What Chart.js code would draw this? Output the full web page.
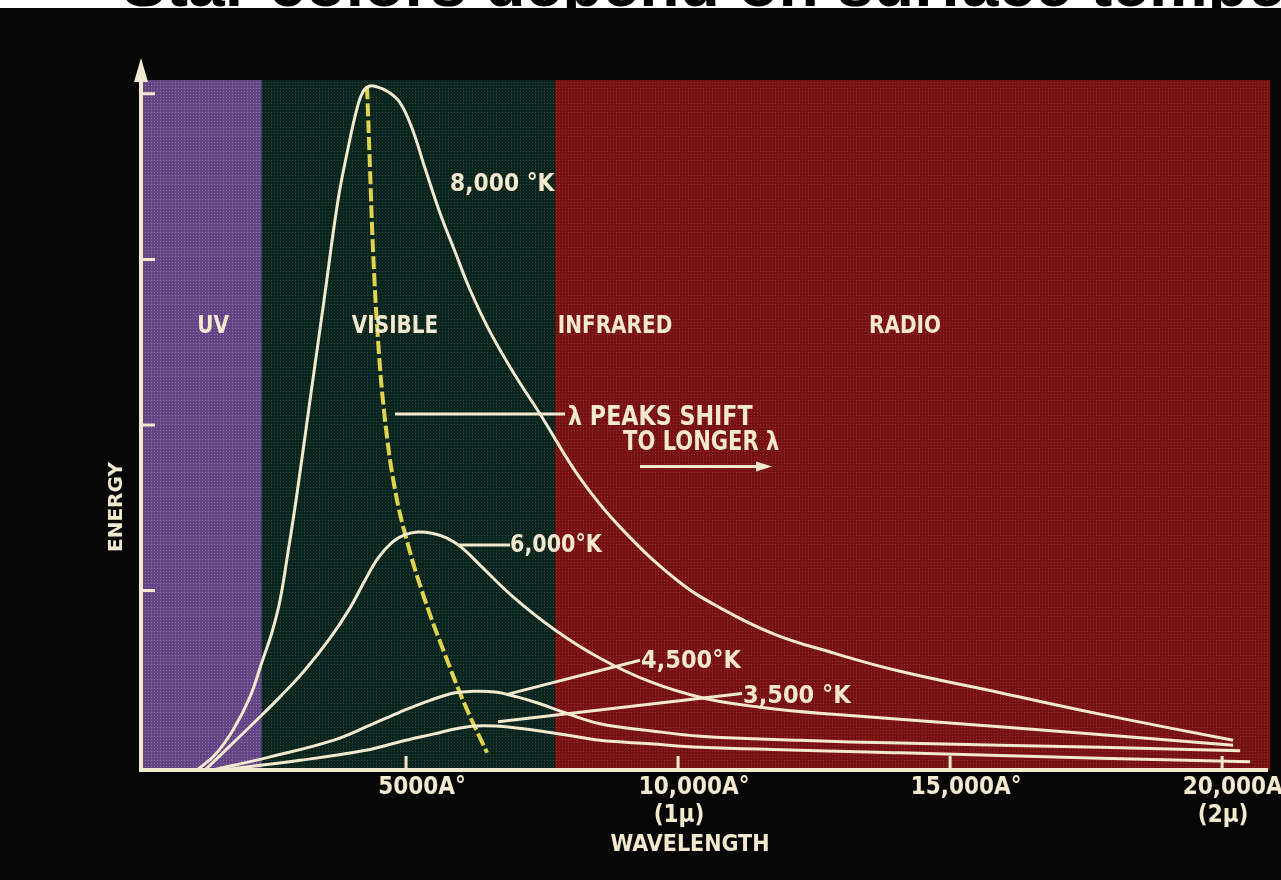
<!DOCTYPE html>
<html>
<head>
<meta charset="utf-8">
<script src="https://cdn.jsdelivr.net/npm/chart.js@4.4.1/dist/chart.umd.min.js"></script>
<style>
  html, body { margin: 0; padding: 0; background: #060606; }
  #wrap { position: relative; width: 1281px; height: 880px; }
</style>
</head>
<body>
<div id="wrap"><canvas id="c"></canvas></div>
<script>
// ── black-body curves: [wavelength Å, energy (arbitrary, 0-100)] ──
const titleText = 'Star colors depend on surface temperature';

const xTicks = [5000, 10000, 15000, 20000];
const xTickLabels = [['5000A°'], ['10,000A°', '(1μ)    '], ['15,000A°'], ['20,000A°', '(2μ)    ']];
const yTicks = [26, 50, 74, 98];

const bandEdges = [165, 2350, 7740, 20880];
const regionNames = ['UV', 'VISIBLE', 'INFRARED', 'RADIO'];
const regionCenters = [1452, 4798, 8842, 14172];

const curve8000 = [[1158,0],[1489,2.2],[1820,5.8],[2132,10.6],[2353,15.7],[2537,20.0],[2684,24.6],
  [2831,31.6],[2978,39.1],[3235,53.6],[3493,68.1],[3750,82.6],[3934,90.1],[4099,95.9],[4209,98.3],
  [4320,99.1],[4467,99.0],[4669,98.3],[4890,96.7],[5110,93.0],[5349,87.2],[5625,80.7],[5901,75.1],
  [6176,69.6],[6544,63.5],[7004,57.2],[7463,51.6],[8198,42.3],[8934,35.2],[9981,27.5],[10772,23.5],
  [11764,19.7],[12794,17.1],[14081,14.3],[15919,11.2],[17757,8.1],[20202,4.3]];
const curve6000 = [[1305,0],[1765,3.5],[2224,7.0],[2684,10.6],[3143,14.5],[3603,19.1],[3971,23.5],
  [4246,27.5],[4485,30.7],[4743,33.0],[4982,34.1],[5220,34.5],[5478,34.3],[5754,33.6],[6029,32.2],
  [6360,29.7],[6967,25.1],[7739,20.3],[8566,16.2],[9485,12.8],[10478,10.4],[11507,9.1],[12794,8.1],
  [16213,6.1],[20202,3.6]];
const curve4500 = [[1452,0],[2500,1.9],[3658,4.3],[4338,6.5],[4890,8.4],[5441,10.1],[5901,11.2],
  [6232,11.4],[6636,11.3],[7040,10.6],[7463,9.6],[7923,8.3],[8566,6.7],[9485,5.7],[10404,4.9],
  [12242,4.3],[14081,3.9],[17757,3.3],[20331,2.8]];
const curve3500 = [[1618,0],[3051,1.4],[4283,2.9],[4890,4.1],[5496,5.2],[5993,6.1],[6415,6.4],
  [6912,6.2],[7334,5.8],[7923,5.1],[8566,4.3],[9485,3.8],[10404,3.3],[14081,2.5],[17757,1.7],
  [20515,1.2]];
const peakLocus = [[4283,99.1],[4338,87.0],[4393,75.4],[4485,62.3],[4614,50.7],[4798,40.6],
  [5037,32.6],[5349,24.6],[5717,16.7],[6085,9.4],[6489,2.5]];

const CREAM = '#f3e9cf';
const FONT = '"Liberation Sans Narrow", "DejaVu Sans Condensed", "Liberation Sans", sans-serif';

function toXY(arr) { return arr.map(p => ({x: p[0], y: p[1]})); }

function curveSet(label, arr) {
    return {
        label, data: toXY(arr), showLine: true, borderColor: CREAM, borderWidth: 3,
        pointRadius: 0, tension: 0.4, fill: false
    };
}

// halftone look of the printed bands
function dotPattern(ctx, base, dot) {
    const c = document.createElement('canvas');
    c.width = 3; c.height = 3;
    const g = c.getContext('2d');
    g.fillStyle = base; g.fillRect(0, 0, 3, 3);
    g.fillStyle = dot; g.fillRect(1, 1, 1, 1);
    return ctx.createPattern(c, 'repeat');
}

function stretchText(ctx, s, x, y, sx, align) {
    ctx.save();
    ctx.translate(x, y);
    ctx.scale(sx, 1);
    ctx.textAlign = align;
    ctx.fillText(s, 0, 0);
    ctx.restore();
}

const slide = {
    id: 'slide',
    beforeDraw(chart) {
        const {ctx, width, height} = chart;
        ctx.save();
        ctx.fillStyle = '#060606';
        ctx.fillRect(0, 0, width, height);
        // title strip, mostly cut off by the slide frame
        ctx.fillStyle = '#ffffff';
        ctx.fillRect(0, 0, width, 8);
        ctx.beginPath(); ctx.rect(0, 0, width, 8); ctx.clip();
        ctx.fillStyle = '#000';
        ctx.font = 'bold 66px "Liberation Sans", sans-serif';
        ctx.textBaseline = 'alphabetic';
        ctx.fillText(titleText, 122, 6);
        ctx.restore();
    },
    beforeDatasetsDraw(chart) {
        const {ctx, chartArea: a, scales: {x}} = chart;
        const fills = [
            dotPattern(ctx, '#634484', '#8d6ea6'),
            dotPattern(ctx, '#0b251e', '#24443a'),
            dotPattern(ctx, '#761212', '#962c2c')
        ];
        ctx.save();
        for (let i = 0; i < fills.length; i++) {
            const x0 = x.getPixelForValue(bandEdges[i]);
            const x1 = x.getPixelForValue(bandEdges[i + 1]);
            ctx.fillStyle = fills[i];
            ctx.fillRect(x0, a.top, x1 - x0, a.bottom - a.top);
        }
        ctx.restore();
    },
    afterDatasetsDraw(chart) {
        const {ctx, chartArea: a, scales: {x, y}} = chart;
        const P = (wl, e) => [x.getPixelForValue(wl), y.getPixelForValue(e)];
        ctx.save();
        ctx.strokeStyle = CREAM;
        ctx.fillStyle = CREAM;

        // axes
        const ax = a.left - 2;
        ctx.lineWidth = 4;
        ctx.beginPath();
        ctx.moveTo(ax, a.bottom); ctx.lineTo(ax, a.top - 2);
        ctx.moveTo(ax - 2, a.bottom); ctx.lineTo(a.right - 2, a.bottom);
        ctx.stroke();
        ctx.beginPath();
        ctx.moveTo(ax, a.top - 22); ctx.lineTo(ax - 7, a.top + 2); ctx.lineTo(ax + 7, a.top + 2);
        ctx.closePath(); ctx.fill();

        // inside tick marks
        ctx.lineWidth = 3;
        ctx.beginPath();
        xTicks.forEach(v => {
            const px = x.getPixelForValue(v);
            ctx.moveTo(px, a.bottom); ctx.lineTo(px, a.bottom - 14);
        });
        yTicks.forEach(v => {
            const py = y.getPixelForValue(v);
            ctx.moveTo(ax, py); ctx.lineTo(ax + 14, py);
        });
        ctx.stroke();

        // leader lines
        const seg = (a1, b1, a2, b2) => {
            const p = P(a1, b1), q = P(a2, b2);
            ctx.beginPath(); ctx.moveTo(p[0], p[1]); ctx.lineTo(q[0], q[1]); ctx.stroke();
        };
        seg(4798, 51.6, 7923, 51.6);
        seg(5956, 32.6, 6912, 32.6);
        seg(6875, 11.0, 9301, 15.9);
        seg(6691, 7.0, 11176, 11.1);
        seg(9301, 44.0, 11500, 44.0);
        const ah = P(11728, 44.0);
        ctx.beginPath();
        ctx.moveTo(ah[0], ah[1]); ctx.lineTo(ah[0] - 16, ah[1] - 5); ctx.lineTo(ah[0] - 16, ah[1] + 5);
        ctx.closePath(); ctx.fill();

        // texts
        ctx.textBaseline = 'middle';
        ctx.font = 'bold 25px ' + FONT;
        regionNames.forEach((n, i) => {
            const p = P(regionCenters[i], 64.3);
            stretchText(ctx, n, p[0], p[1], 0.89, 'center');
        });
        const txt = (s, wl, e, sx) => { const p = P(wl, e); stretchText(ctx, s, p[0], p[1], sx, 'left'); };
        txt('8,000 °K', 5809, 84.8, 0.97);
        txt('6,000°K', 6912, 32.6, 0.92);
        txt('4,500°K', 9320, 15.7, 1.0);
        txt('3,500 °K', 11195, 10.6, 1.0);
        ctx.font = 'bold 26px ' + FONT;
        txt('λ PEAKS SHIFT', 7978, 51.0, 0.95);
        txt('TO LONGER λ', 8990, 47.4, 0.9);

        ctx.font = 'bold 23px ' + FONT;
        ctx.textAlign = 'center';
        ctx.fillText('WAVELENGTH', 690, a.bottom + 75);
        ctx.save();
        ctx.translate(117, 507);
        ctx.rotate(-Math.PI / 2);
        ctx.font = 'bold 20px "DejaVu Sans", sans-serif';
        ctx.fillText('ENERGY', 0, 0);
        ctx.restore();
        ctx.restore();
    }
};

new Chart(document.getElementById('c'), {
    type: 'scatter',
    data: {
        datasets: [
            curveSet('8,000 °K', curve8000),
            curveSet('6,000 °K', curve6000),
            curveSet('4,500 °K', curve4500),
            curveSet('3,500 °K', curve3500),
            {
                label: 'λ peak', data: toXY(peakLocus), showLine: true, borderColor: '#e2d34c',
                borderWidth: 4, borderDash: [13, 4], pointRadius: 0, tension: 0.4, fill: false
            }
        ]
    },
    options: {
        animation: false,
        responsive: true,
        maintainAspectRatio: false,
        layout: { padding: { top: 80, right: 11, left: 0, bottom: 0 } },
        plugins: { legend: { display: false }, tooltip: { enabled: false } },
        scales: {
            x: {
                type: 'linear', min: 165, max: 20880,
                grid: { display: false, drawTicks: false },
                border: { display: false },
                afterBuildTicks: s => { s.ticks = xTicks.map(v => ({value: v})); },
                afterFit: s => { s.height = 110; },
                ticks: {
                    color: CREAM, padding: 3, maxRotation: 0, autoSkip: false, labelOffset: 16,
                    font: { family: FONT, size: 24, weight: 'bold', lineHeight: 1.2 },
                    callback: v => xTickLabels[xTicks.indexOf(v)]
                }
            },
            y: {
                type: 'linear', min: 0, max: 100,
                grid: { display: false, drawTicks: false },
                border: { display: false },
                ticks: { display: false },
                afterFit: s => { s.width = 143; }
            }
        }
    },
    plugins: [slide]
});
</script>
</body>
</html>
